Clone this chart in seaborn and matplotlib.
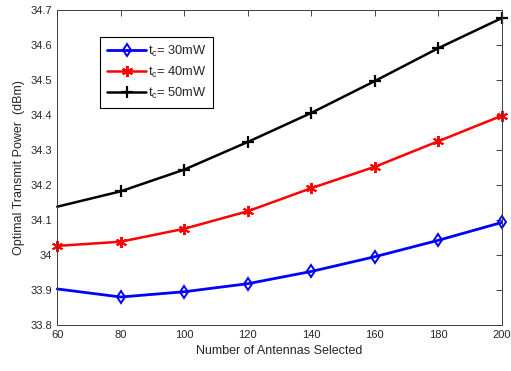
import matplotlib
matplotlib.use("Agg")
import matplotlib.pyplot as plt
import seaborn as sns
import pandas as pd
from matplotlib.ticker import FuncFormatter

antennas = [60, 80, 100, 120, 140, 160, 180, 200]
power_30 = [33.903, 33.880, 33.895, 33.918, 33.953, 33.995, 34.042, 34.093]
power_40 = [34.026, 34.038, 34.075, 34.125, 34.191, 34.252, 34.325, 34.398]
power_50 = [34.138, 34.182, 34.244, 34.323, 34.406, 34.497, 34.591, 34.677]

sns.set_style("white")
plt.rcParams['font.family'] = ['Liberation Sans', 'DejaVu Sans']
plt.rcParams['mathtext.fontset'] = 'custom'
plt.rcParams['mathtext.rm'] = 'Liberation Sans'
plt.rcParams['mathtext.it'] = 'Liberation Sans'

fig, ax = plt.subplots(figsize=(5.11, 3.71), dpi=100)

# (values, colour, marker, label, marker size, edge width, line width, first marker index)
series = [
    (power_30, '#0000ff', 'd', r'$\mathregular{t_c}$= 30mW', 6.5, 1.4, 2.0, 1),
    (power_40, '#ff0000', (6, 2, 0), r'$\mathregular{t_c}$= 40mW', 8, 1.4, 1.8, 0),
    (power_50, '#000000', '+', r'$\mathregular{t_c}$= 50mW', 8, 1.6, 1.8, 1),
]
for vals, color, marker, label, ms, mew, lw, start in series:
    df = pd.DataFrame({'x': antennas, 'y': vals})
    sns.lineplot(data=df, x='x', y='y', ax=ax, color=color, linewidth=lw,
                 marker=marker, markersize=ms, markeredgewidth=mew,
                 markevery=slice(start, None), clip_on=False,
                 markerfacecolor='none' if marker == 'd' else color,
                 markeredgecolor=color, label=label)

ax.set_xlim(60, 200)
ax.set_ylim(33.8, 34.7)
ax.set_xticks(antennas)
ax.set_yticks([33.8, 33.9, 34.0, 34.1, 34.2, 34.3, 34.4, 34.5, 34.6, 34.7])
ax.yaxis.set_major_formatter(FuncFormatter(
    lambda v, p: f"{v:g}" if abs(v - round(v)) > 1e-9 else f"{int(round(v))}"))
ax.tick_params(direction='in', top=True, right=True, labelsize=8, length=4,
               width=0.6, colors='#262626')
for s in ax.spines.values():
    s.set_linewidth(0.7)
    s.set_color('#3c3c3c')
ax.set_xlabel('Number of Antennas Selected', fontsize=9)
ax.set_ylabel('Optimal Transmit Power  (dBm)', fontsize=9)

leg = ax.legend(loc='upper left', bbox_to_anchor=(0.097, 0.915), fontsize=9.3,
                fancybox=False, edgecolor='black', framealpha=1, numpoints=1,
                handlelength=3.0, handletextpad=0.1, borderpad=0.55,
                labelspacing=0.45, borderaxespad=0)
leg.get_frame().set_linewidth(0.8)
for h in leg.legend_handles:
    h.set_markevery([1])

fig.subplots_adjust(left=0.112, right=0.982, top=0.973, bottom=0.124)
fig.savefig('out.png', dpi=100)
